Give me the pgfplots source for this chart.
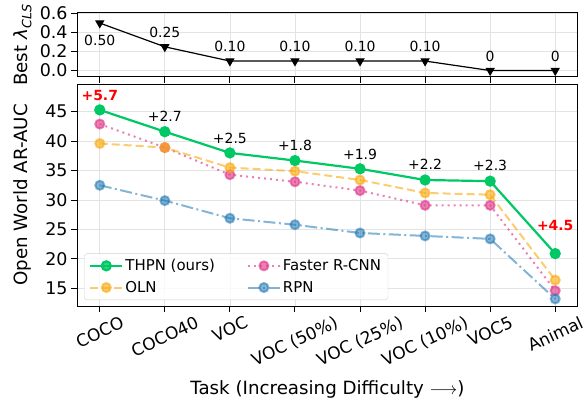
\documentclass[border=0pt]{standalone}
\usepackage{fontspec}
\setmainfont{DejaVu Sans}
\usepackage{graphicx}
\usepackage{pgfplots}
\pgfplotsset{compat=1.18}

\definecolor{thpn}{RGB}{0,200,100}
\definecolor{oln}{RGB}{250,170,15}
\definecolor{frcnn}{RGB}{225,60,140}
\definecolor{rpn}{RGB}{31,119,180}

\begin{document}
\begin{tikzpicture}
\pgfplotsset{
  every axis/.append style={
    scale only axis, width=501bp,
    xmin=-0.35, xmax=7.35, xtick={0,...,7},
    tick align=outside, xtick pos=bottom, ytick pos=left,
    major tick length=6bp,
    grid=major, grid style={gray!22, line width=0.8bp},
    /pgf/number format/assume math mode=true,
    axis line style={line width=1bp},
    tick style={black, line width=1bp},
    yticklabel style={font=\fontsize{17.5}{20}\selectfont},
    xticklabel style={font=\fontsize{17}{20}\selectfont},
    label style={font=\fontsize{18.3}{21}\selectfont},
    clip=false,
  },
}
% best lambda per task
\begin{axis}[name=top, at={(77bp,-13bp)}, anchor=north west, height=64bp,
  ymin=-0.068, ymax=0.606, ytick={0,0.2,0.4,0.6},
  yticklabel style={/pgf/number format/.cd, fixed, fixed zerofill, precision=1},
  xticklabels={},
  ylabel={Best \textit{λ}\textsubscript{\textit{CLS}}},
  ylabel style={at={(axis description cs:-0.108,0.5)}, anchor=center},
]
\addplot[black, line width=1.2bp, mark=triangle*, mark size=4.3bp,
  mark options={rotate=180}] coordinates {
  (0,0.50)(1,0.25)(2,0.10)(3,0.10)(4,0.10)(5,0.10)(6,0)(7,0)
};
\node[font=\fontsize{14}{17}\selectfont] at (axis cs:0,0.32) {0.50};
\node[font=\fontsize{14}{17}\selectfont] at (axis cs:1,0.40) {0.25};
\node[font=\fontsize{14}{17}\selectfont] at (axis cs:2,0.25) {0.10};
\node[font=\fontsize{14}{17}\selectfont] at (axis cs:3,0.25) {0.10};
\node[font=\fontsize{14}{17}\selectfont] at (axis cs:4,0.25) {0.10};
\node[font=\fontsize{14}{17}\selectfont] at (axis cs:5,0.25) {0.10};
\node[font=\fontsize{14}{17}\selectfont] at (axis cs:6,0.145) {0};
\node[font=\fontsize{14}{17}\selectfont] at (axis cs:7,0.145) {0};
\end{axis}

% open world AR-AUC
\begin{axis}[at={(77bp,-84bp)}, anchor=north west, height=222bp,
  ymin=12, ymax=49.7, ytick={15,20,...,45},
  xticklabels={{\rotatebox{25}{COCO}}, {\rotatebox{25}{COCO40}}, {\rotatebox{25}{VOC}},
    {\rotatebox{25}{VOC (50\%)}}, {\rotatebox{25}{VOC (25\%)}}, {\rotatebox{25}{VOC (10\%)}},
    {\rotatebox{25}{VOC5}}, {\rotatebox{25}{Animal}}},
  xticklabel style={anchor=north},
  xlabel={Task (Increasing Difficulty $\longrightarrow$)},
  xlabel style={at={(axis description cs:0.5,-0.378)}, anchor=center},
  ylabel={Open World AR-AUC},
  ylabel style={at={(axis description cs:-0.108,0.5)}, anchor=center},
  legend columns=2,
  legend cell align=left,
  legend style={at={(axis description cs:0.014,0.027)}, anchor=south west,
    draw=gray!35, rounded corners=3bp, fill=white, fill opacity=0.8, text opacity=1,
    font=\fontsize{15}{18}\selectfont, inner xsep=5bp, inner ysep=4bp, row sep=5bp,
    /tikz/every even column/.append style={column sep=30bp}},
  legend image code/.code={\draw[mark repeat=2, mark phase=2]
    plot coordinates {(0bp,0bp)(16bp,0bp)(32bp,0bp)};},
]
\addplot[thpn, line width=2.2bp, mark=*, mark size=4.5bp, mark options={solid}] coordinates {
  (0,45.3)(1,41.6)(2,38.0)(3,36.7)(4,35.3)(5,33.4)(6,33.2)(7,20.9)
};
\addlegendentry{THPN (ours)}
\addplot[frcnn, opacity=0.65, line width=2bp, dash pattern=on 2bp off 4bp,
  mark=*, mark size=4.5bp, mark options={solid}] coordinates {
  (0,42.9)(1,38.9)(2,34.3)(3,33.1)(4,31.6)(5,29.1)(6,29.1)(7,14.6)
};
\addlegendentry{Faster R-CNN}
\addplot[oln, opacity=0.6, line width=2bp, dash pattern=on 8bp off 4bp,
  mark=*, mark size=4.5bp, mark options={solid}] coordinates {
  (0,39.6)(1,38.9)(2,35.5)(3,34.9)(4,33.4)(5,31.2)(6,30.9)(7,16.4)
};
\addlegendentry{OLN}
\addplot[rpn, opacity=0.55, line width=2bp, dash pattern=on 12bp off 3.5bp on 2bp off 3.5bp,
  mark=*, mark size=4.5bp, mark options={solid}] coordinates {
  (0,32.5)(1,29.9)(2,26.9)(3,25.8)(4,24.4)(5,23.9)(6,23.4)(7,13.2)
};
\addlegendentry{RPN}
% gain of THPN over OLN
\node[text=red, font=\fontsize{14}{17}\selectfont\bfseries] at (axis cs:0,47.8) {+5.7};
\node[font=\fontsize{14}{17}\selectfont] at (axis cs:1,44.2) {+2.7};
\node[font=\fontsize{14}{17}\selectfont] at (axis cs:2,40.5) {+2.5};
\node[font=\fontsize{14}{17}\selectfont] at (axis cs:3,39.3) {+1.8};
\node[font=\fontsize{14}{17}\selectfont] at (axis cs:4,37.8) {+1.9};
\node[font=\fontsize{14}{17}\selectfont] at (axis cs:5,36.1) {+2.2};
\node[font=\fontsize{14}{17}\selectfont] at (axis cs:6,35.9) {+2.3};
\node[text=red, font=\fontsize{14}{17}\selectfont\bfseries] at (axis cs:7,25.6) {+4.5};
\end{axis}
\pgfresetboundingbox
\path[use as bounding box] (0,0) rectangle (588bp,-402bp);
\end{tikzpicture}
\end{document}
